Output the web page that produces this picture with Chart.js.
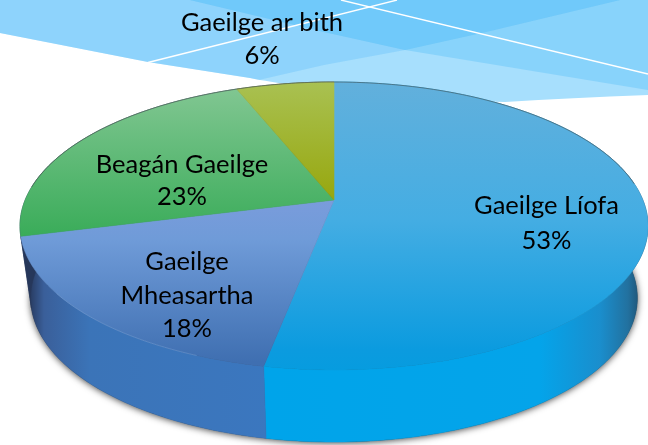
<!DOCTYPE html>
<html>
<head>
<meta charset="utf-8">
<style>
html,body{margin:0;padding:0;background:#fff;overflow:hidden}
#w{position:relative;width:648px;height:445px}
canvas{display:block}
</style>
<script src="https://cdn.jsdelivr.net/npm/chart.js@4/dist/chart.umd.js"></script>
</head>
<body>
<div id="w"><canvas id="c" width="648" height="445"></canvas></div>
<script>
const categories = ["Gaeilge Líofa", "Gaeilge Mheasartha", "Beagán Gaeilge", "Gaeilge ar bith"];
const values = [53, 18, 23, 6];
const labelLines = [["Gaeilge Líofa","53%"],["Gaeilge","Mheasartha","18%"],["Beagán Gaeilge","23%"],["Gaeilge ar bith","6%"]];

// presentation only
const labelPos = [[546.5,206,35],[187,262,33.5],[182,165,32],[262,23,33]];
const CX=334, CY=226, A=314, B=144, APEX=26, DEPTH=72, BASE_SCALE=0.966;
const a=A*Math.sqrt(1-(APEX/B)*(APEX/B));
const topFill=[
  [[82,'#62b0dc'],[220,'#44ade3'],[350,'#0b9bdf'],[372,'#069cdf']],
  [[200,'#7a9cdc'],[240,'#6f9bd8'],[362,'#3f6fb1']],
  [[90,'#80c691'],[242,'#37ab57']],
  [[82,'#a9c152'],[200,'#97a70e']]
];
const wallFill=[
  [[270,'#00a4ea'],[540,'#04a4ea'],[600,'#1a8ecd'],[628,'#22719f'],[642,'#1f4e6e']],
  [[28,'#26375a'],[44,'#3a5f9a'],[90,'#3b74b8'],[272,'#3b77bf']],
  [[22,'#26375a'],[30,'#26375a']],
  [[22,'#26375a'],[30,'#26375a']]
];

function project(ang){ // chart angle -> point on the rim
  const t=ang+Math.PI/2, u=Math.sin(t), v=-Math.cos(t);
  const w=1-(APEX/B)*v;
  return [CX+a*u/w, CY+(B*v-APEX)/w];
}
function rim(ctx,s,e,dy,rev){
  const n=Math.max(4,Math.ceil(Math.abs(e-s)*60));
  for(let i=0;i<=n;i++){
    const f=rev?1-i/n:i/n, p=project(s+(e-s)*f);
    const x=dy?CX+(p[0]-CX)*BASE_SCALE:p[0];
    ctx.lineTo(x,p[1]+dy);
  }
}
function vGrad(ctx,st){
  const y0=st[0][0],y1=st[st.length-1][0],g=ctx.createLinearGradient(0,y0,0,y1);
  st.forEach(s=>g.addColorStop((s[0]-y0)/(y1-y0),s[1]));return g;
}
function hGrad(ctx,st){
  const x0=st[0][0],x1=st[st.length-1][0],g=ctx.createLinearGradient(x0,0,x1,0);
  st.forEach(s=>g.addColorStop((s[0]-x0)/(x1-x0),s[1]));return g;
}

// The library's arcs carry the angles; they are drawn through the perspective above.
Chart.ArcElement.prototype.draw=function(ctx){
  const idx=this.$context?this.$context.dataIndex:0;
  ctx.save();
  ctx.beginPath();
  ctx.moveTo(CX,CY-APEX);
  rim(ctx,this.startAngle,this.endAngle,0,false);
  ctx.closePath();
  const g=vGrad(ctx,topFill[idx]);
  ctx.fillStyle=g;ctx.strokeStyle=g;ctx.lineWidth=0.6;
  ctx.fill();ctx.stroke();
  ctx.restore();
};

const pie3d={
  id:'pie3d',
  beforeDraw(chart){
    const ctx=chart.ctx;
    ctx.save();
    ctx.fillStyle='#fff';ctx.fillRect(0,0,648,445);
    ctx.beginPath();
    ctx.moveTo(0,0);ctx.lineTo(648,0);ctx.lineTo(648,95);
    ctx.quadraticCurveTo(570,98,505,102);
    ctx.bezierCurveTo(400,100,300,88,250,78);
    ctx.lineTo(148,62);ctx.lineTo(0,33);ctx.closePath();
    ctx.fillStyle='#a7dffd';ctx.fill();
    ctx.save();ctx.clip();
    ctx.beginPath();ctx.moveTo(190,0);ctx.lineTo(324,32);ctx.lineTo(405,50);ctx.lineTo(648,90);ctx.lineTo(648,0);ctx.closePath();
    ctx.fillStyle='rgba(112,200,250,0.55)';ctx.fill();
    ctx.beginPath();ctx.moveTo(0,0);ctx.lineTo(620,0);ctx.lineTo(486,32);ctx.lineTo(405,50);ctx.lineTo(324,65);ctx.lineTo(250,82);ctx.lineTo(0,82);ctx.closePath();
    ctx.fillStyle='rgba(108,196,250,0.42)';ctx.fill();
    ctx.beginPath();ctx.moveTo(190,0);ctx.lineTo(324,32);ctx.lineTo(405,50);ctx.lineTo(486,32);ctx.lineTo(620,0);ctx.closePath();
    ctx.fillStyle='rgba(100,198,250,0.5)';ctx.fill();
    ctx.restore();
    ctx.strokeStyle='#fff';ctx.lineWidth=1.3;
    ctx.beginPath();ctx.moveTo(148,62.5);ctx.lineTo(397,0);ctx.stroke();
    ctx.beginPath();ctx.moveTo(341,0);ctx.lineTo(648,74);ctx.stroke();
    ctx.restore();
  },
  beforeDatasetsDraw(chart){
    const ctx=chart.ctx, arcs=chart.getDatasetMeta(0).data;
    // soft drop shadow below the side wall
    ctx.save();
    ctx.shadowColor='rgba(0,0,0,0.75)';ctx.shadowBlur=7;ctx.shadowOffsetY=1;ctx.shadowOffsetX=0;
    ctx.fillStyle='#333';
    ctx.beginPath();
    rim(ctx,-Math.PI/2,1.5*Math.PI,DEPTH,false);
    ctx.closePath();ctx.fill();
    ctx.restore();
    // walls
    arcs.forEach((el,i)=>{
      ctx.save();
      ctx.beginPath();
      rim(ctx,el.startAngle,el.endAngle,0,false);
      rim(ctx,el.startAngle,el.endAngle,DEPTH,true);
      ctx.closePath();
      const g=hGrad(ctx,wallFill[i]);
      ctx.fillStyle=g;ctx.strokeStyle=g;ctx.lineWidth=0.6;ctx.fill();ctx.stroke();
      ctx.restore();
    });
  },
  afterDatasetsDraw(chart){
    const ctx=chart.ctx;
    ctx.save();
    // thin dark line on the far rim
    ctx.beginPath();
    let p=project(-Math.PI*0.97);ctx.moveTo(p[0],p[1]);
    rim(ctx,-Math.PI*0.97,-0.12,0,false);
    ctx.strokeStyle='rgba(70,80,80,0.6)';ctx.lineWidth=1;ctx.stroke();
    // faint highlight on the near rim of the blue slice
    ctx.beginPath();
    p=project(1.95);ctx.moveTo(p[0],p[1]);
    rim(ctx,1.95,2.5,0,false);
    ctx.strokeStyle='rgba(150,190,240,0.3)';ctx.lineWidth=1;ctx.stroke();
    // labels
    ctx.fillStyle='#000';ctx.textAlign='center';ctx.textBaseline='middle';
    ctx.font='25.5px Lato, "Open Sans", sans-serif';
    labelLines.forEach((lines,i)=>{
      const [x,y,h]=labelPos[i];
      lines.forEach((t,j)=>ctx.fillText(t,x,y+j*h));
    });
    ctx.restore();
  }
};

new Chart(document.getElementById('c'),{
  type:'pie',
  data:{labels:categories,datasets:[{data:values,borderWidth:0,clip:false}]},
  options:{
    responsive:false,animation:false,
    plugins:{legend:{display:false},tooltip:{enabled:false}}
  },
  plugins:[pie3d]
});
</script>
</body>
</html>
